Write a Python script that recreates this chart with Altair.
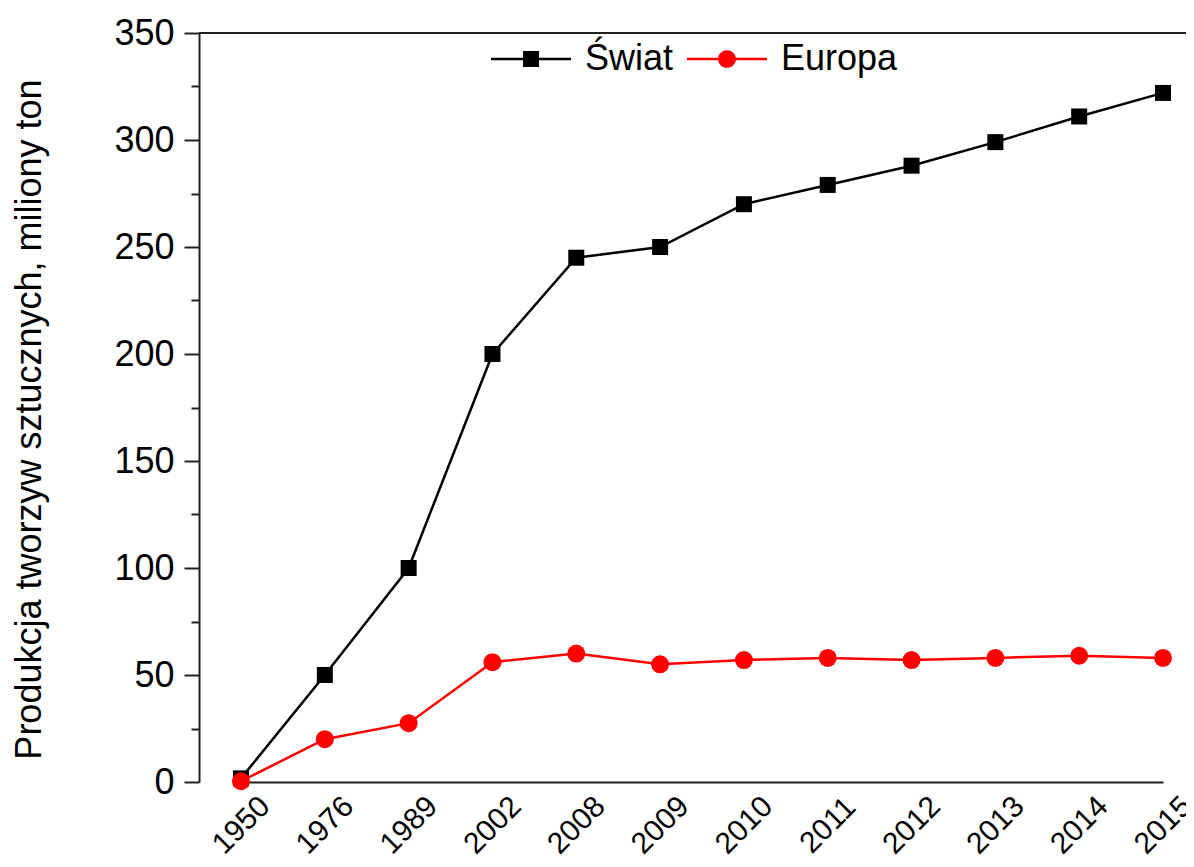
import altair as alt
import pandas as pd

years = ["1950", "1976", "1989", "2002", "2008", "2009", "2010", "2011", "2012", "2013", "2014", "2015"]
swiat = [1.7, 50, 100, 200, 245, 250, 270, 279, 288, 299, 311, 322]
europa = [0.35, 20, 27.5, 56, 60, 55, 57, 58, 57, 58, 59, 58]
series_names = ["Świat", "Europa"]
series_colors = ["#000000", "#ff0000"]
y_title = "Produkcja tworzyw sztucznych, miliony ton"

rows = []
for name, vals in zip(series_names, [swiat, europa]):
    for yr, v in zip(years, vals):
        rows.append({"year": yr, "value": v, "series": name})
df = pd.DataFrame(rows)

FONT = "Liberation Sans"
AX = "#222222"

# legend symbols: line stub + marker, as filled paths (unit = sqrt(size)/2)
sq_path = "M-4,-0.12H-0.8V-0.8H0.8V-0.12H4V0.12H0.8V0.8H-0.8V0.12H-4Z"
ci_path = "M-4,-0.12H-0.89A0.9,0.9 0 0 1 0.89,-0.12H4V0.12H0.89A0.9,0.9 0 0 1 -0.89,0.12H-4Z"

x_enc = alt.X(
    "year:O",
    scale=alt.Scale(type="point", domain=years, range=[42, 964], padding=0),
    axis=alt.Axis(
        title=None, labelAngle=315, labelAlign="center", labelBaseline="middle",
        labelPadding=43, ticks=False, tickSize=0, labelFontSize=30, labelFont=FONT,
        labelColor="#000000", domainColor=AX, domainWidth=2, grid=False,
    ),
)
y_enc = alt.Y(
    "value:Q",
    scale=alt.Scale(domain=[0, 350], nice=False, zero=True),
    axis=alt.Axis(
        title=y_title, values=list(range(0, 351, 25)),
        labelExpr="datum.value % 50 === 0 ? datum.label : ''",
        tickSize={"condition": {"test": "datum.value % 50 === 0", "value": 15}, "value": 8},
        tickWidth=2, tickColor=AX, domainColor=AX, domainWidth=2, grid=False,
        labelFontSize=36, labelFont=FONT, labelColor="#000000", labelPadding=10,
        titleFontSize=36, titleFont=FONT, titleFontWeight="normal", titleColor="#000000",
        titleAngle=270, titleX=-159, titleY=386, titleAlign="center", titleBaseline="alphabetic",
    ),
)

base = alt.Chart(df)

top_rule = base.mark_rule(color=AX, strokeWidth=2).encode(y=alt.datum(350))

lines = base.mark_line(strokeWidth=2.5).encode(
    x=x_enc, y=y_enc,
    stroke=alt.Stroke("series:N", scale=alt.Scale(domain=series_names, range=series_colors), legend=None),
)

points = base.mark_point(filled=True, opacity=1).encode(
    x=x_enc, y=y_enc,
    fill=alt.Fill("series:N", scale=alt.Scale(domain=series_names, range=series_colors), legend=None),
    shape=alt.condition(f"datum.series === '{series_names[0]}'", alt.value("square"), alt.value("circle")),
    size=alt.condition(f"datum.series === '{series_names[0]}'", alt.value(256), alt.value(324)),
)

leg = alt.Legend(
    orient="none", legendX=314, legendY=8, direction="horizontal", title=None,
    labelFontSize=36, labelFont=FONT, labelColor="#000000", symbolSize=400,
    symbolStrokeWidth=0, labelOffset=36, columnPadding=13, padding=0, labelLimit=400,
)
legend_layer = base.mark_point(filled=True, opacity=1).encode(
    x=x_enc, y=y_enc,
    color=alt.Color("series:N", scale=alt.Scale(domain=series_names, range=series_colors), legend=leg),
    shape=alt.Shape("series:N", scale=alt.Scale(domain=series_names, range=[sq_path, ci_path]), legend=leg),
).transform_filter("false")

chart = alt.layer(legend_layer, top_rule, lines, points).properties(
    width=987, height=749,
    autosize=alt.AutoSizeParams(type="none"),
    padding={"left": 191, "top": 25, "right": 0, "bottom": 77},
    background="#ffffff",
).configure_view(stroke=None)

chart.save("out.html", embed_options={"renderer": "svg", "actions": False})
